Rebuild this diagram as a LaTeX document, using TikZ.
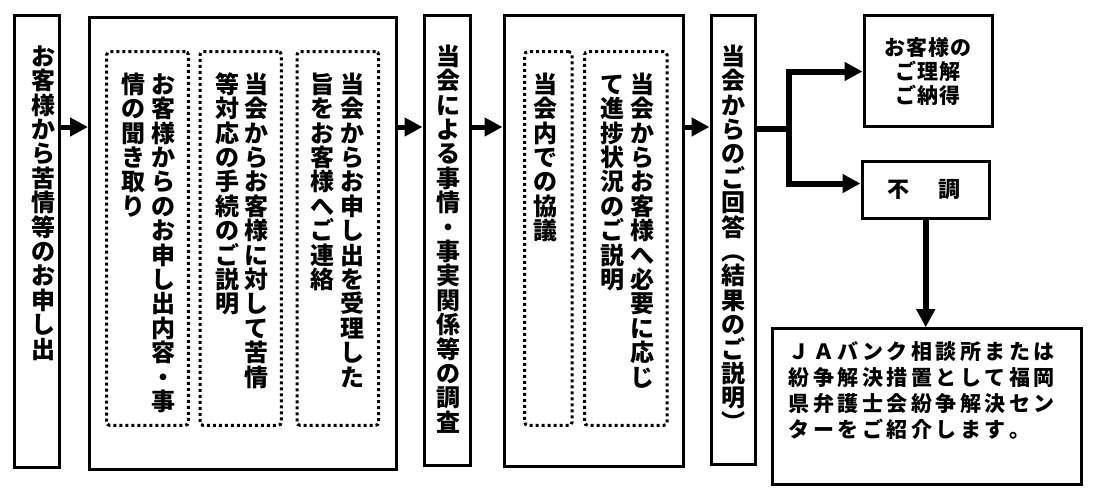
\documentclass[tikz,border=0pt]{standalone}
\usepackage{fontspec}
\newfontfamily\jp{Noto Sans CJK JP}
\usetikzlibrary{arrows.meta}
\ExplSyntaxOn
\NewDocumentCommand\vcol{ O{24.4pt} m }
 {
  \vtop
   {
    \baselineskip=#1\relax
    \lineskiplimit=-100pt\relax
    \lineskip=0pt\relax
    \tl_map_inline:nn {#2}
     { \hbox_to_wd:nn {1em} { \hss \vrule~height~.88em~depth~.12em~width~0pt\relax \smash{##1} \hss } }
   }
 }
\NewDocumentCommand\hrow{ O{24.5pt} m }
 {
  \hbox:n
   {
    \tl_map_inline:nn {#2}
     { \hbox_to_wd:nn {#1} { \vrule~height~.88em~depth~.12em~width~0pt\relax \hss ##1 \hss } }
   }
 }
\ExplSyntaxOff
\tikzset{
  box/.style={draw, line width=3pt, rectangle, inner sep=0pt},
  dotbox/.style={draw, line width=3pt, dash pattern=on 3pt off 3pt, rounded corners=3pt, inner sep=0pt},
  vtxt/.style={inner sep=0pt, anchor=north, font=\jp\bfseries\fontsize{24}{24.4}\selectfont},
  arr/.style={line width=5pt, -{Triangle[length=18pt,width=18pt]}},
  branch/.style={line width=6pt},
  barr/.style={line width=6pt, -{Triangle[length=18pt,width=18pt]}},
}
\begin{document}
\begin{tikzpicture}[x=1pt,y=-1pt]
\useasboundingbox (0,0) rectangle (1095,493);
% main boxes
\node[box, minimum width=44.5pt, minimum height=452.2pt] (b1) at (36.75,241.4) {};
\node[box, minimum width=306.5pt, minimum height=452pt] (b2) at (242.75,243) {};
\node[box, minimum width=46.5pt, minimum height=449.5pt] (b3) at (447.25,240.25) {};
\node[box, minimum width=179pt, minimum height=450.5pt] (b4) at (593.5,240.75) {};
\node[box, minimum width=44pt, minimum height=448.5pt] (b5) at (733,239.75) {};
\node[box, minimum width=128pt, minimum height=110.5pt] (b6) at (928,70.75) {};
\node[box, minimum width=127.5pt, minimum height=57pt] (b7) at (925.75,189.5) {};
\node[box, minimum width=309pt, minimum height=155.3pt] (b8) at (926.5,406.35) {};
% dotted boxes
\node[dotbox, minimum width=81.6pt, minimum height=373.6pt] (d1) at (147.5,238.5) {};
\node[dotbox, minimum width=81.3pt, minimum height=373.6pt] (d2) at (240.65,238.5) {};
\node[dotbox, minimum width=81.7pt, minimum height=373.6pt] (d3) at (337.85,238.5) {};
\node[dotbox, minimum width=47.3pt, minimum height=373.6pt] (da) at (548.35,238.5) {};
\node[dotbox, minimum width=82.3pt, minimum height=373.6pt] (db) at (625.85,238.5) {};
% vertical texts
\node[vtxt] (t1) at (43,44) {\vcol{お客様から苦情等のお申し出}};
\node[vtxt] (t2a) at (163.3,72) {\vcol{お客様からのお申し出内容・事}};
\node[vtxt] (t2b) at (133.3,72) {\vcol{情の聞き取り}};
\node[vtxt] (t2c) at (256.7,72) {\vcol{当会からお客様に対して苦情}};
\node[vtxt] (t2d) at (227,72) {\vcol{等対応の手続のご説明}};
\node[vtxt] (t2e) at (352.5,72) {\vcol{当会からお申し出を受理した}};
\node[vtxt] (t2f) at (322.5,72) {\vcol{旨をお客様へご連絡}};
\node[vtxt] (t3) at (448.3,44) {\vcol{当会による事情・事実関係等の調査}};
\node[vtxt] (t4a) at (545,72) {\vcol{当会内での協議}};
\node[vtxt] (t4b) at (642,72) {\vcol{当会からお客様へ必要に応じ}};
\node[vtxt] (t4c) at (612.5,72) {\vcol{て進捗状況のご説明}};
\node[vtxt] (t5) at (733.3,44) {\vcol{当会からのご回答︵結果のご説明︶}};
% horizontal texts
\node[inner sep=0pt, anchor=north, font=\jp\bfseries\fontsize{21}{24}\selectfont] (t6) at (928,36.5)
  {\vtop{\baselineskip=24pt\lineskiplimit=-100pt\lineskip=0pt
   \hbox to 90pt{\hss\hrow[22pt]{お客様の}\hss}
   \hbox to 90pt{\hss\hrow[22pt]{ご理解}\hss}
   \hbox to 90pt{\hss\hrow[22pt]{ご納得}\hss}}};
\node[inner sep=0pt, font=\jp\bfseries\fontsize{22}{24}\selectfont] (t7) at (924,189.5) {\hrow[26pt]{不　調}};
\node[inner sep=0pt, anchor=north west, font=\jp\bfseries\fontsize{21}{25.8}\selectfont] (t8) at (787,341)
  {\vtop{\baselineskip=25.8pt\lineskiplimit=-100pt\lineskip=0pt
   \hrow{ＪＡバンク相談所または}
   \hrow{紛争解決措置として福岡}
   \hrow{県弁護士会紛争解決セン}
   \hrow{ターをご紹介します。}}};
% connectors
\coordinate (ay) at (0,127);
\draw[arr] (b1.east |- ay) -- (b2.west |- ay);
\draw[arr] (b2.east |- ay) -- (b3.west |- ay);
\draw[arr] (b3.east |- ay) -- (b4.west |- ay);
\draw[arr] (b4.east |- ay) -- (b5.west |- ay);
\coordinate (j) at (789,129);
\coordinate (y6) at (0,71.5);
\coordinate (y7) at (0,183.5);
\draw[branch] (b5.east |- j) -- (j);
\draw[barr] (j) |- (b6.west |- y6);
\draw[barr] (j) |- (b7.west |- y7);
\draw[barr] (b7.south) -- (b7.south |- b8.north);
\end{tikzpicture}
\end{document}
